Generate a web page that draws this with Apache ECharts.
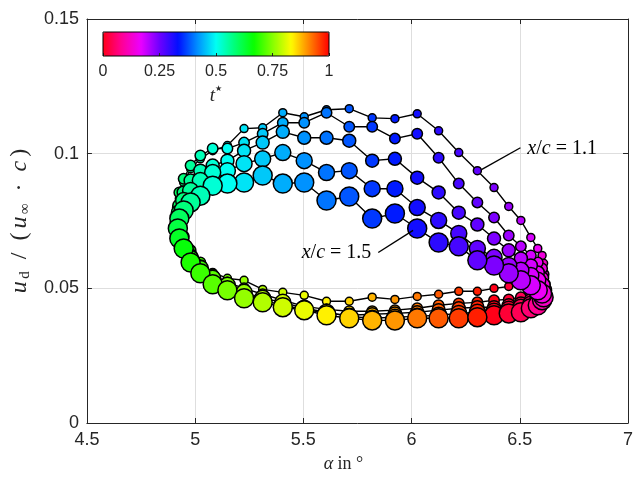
<!DOCTYPE html>
<html><head><meta charset="utf-8">
<script src="https://cdn.jsdelivr.net/npm/echarts@6/dist/echarts.min.js"></script>
<style>html,body{margin:0;padding:0;background:#fff}#c{width:644px;height:478px}</style>
</head><body><div id="c"></div>
<script>
// time stamps t* (one period, 50 samples)
const tStar = [0,0.02,0.04,0.06,0.08,0.10,0.12,0.14,0.16,0.18,0.20,0.22,0.24,0.26,0.28,0.30,0.32,0.34,0.36,0.38,
  0.40,0.42,0.44,0.46,0.48,0.50,0.52,0.54,0.56,0.58,0.60,0.62,0.64,0.66,0.68,0.70,0.72,0.74,0.76,0.78,
  0.80,0.82,0.84,0.86,0.88,0.90,0.92,0.94,0.96,0.98];
// angle of attack alpha (deg) at each t*
const alpha = [6.381,6.449,6.505,6.551,6.583,6.603,6.610,6.603,6.583,6.551,6.505,6.449,6.381,6.304,6.218,6.125,6.026,5.923,5.818,5.712,
  5.607,5.504,5.405,5.312,5.226,5.149,5.081,5.024,4.979,4.947,4.927,4.920,4.927,4.947,4.979,5.024,5.081,5.149,5.226,5.312,
  5.405,5.504,5.607,5.712,5.818,5.923,6.026,6.125,6.218,6.304];
// u_d/(u_inf c) for x/c = 1.1 ... 1.5
const ud11 = [0.0500,0.0507,0.0519,0.0530,0.0544,0.0567,0.0593,0.0622,0.0648,0.0689,
  0.0752,0.0804,0.0874,0.0937,0.1004,0.1085,0.1148,0.1130,0.1133,0.1167,
  0.1163,0.1137,0.1152,0.1096,0.1093,0.1030,0.1011,0.0981,0.0944,0.0893,
  0.0833,0.0774,0.0715,0.0663,0.0619,0.0585,0.0559,0.0537,0.0530,0.0496,
  0.0485,0.0474,0.0452,0.0452,0.0467,0.0459,0.0470,0.0478,0.0489,0.0489];
const ud12 = [0.0456,0.0459,0.0467,0.0481,0.0500,0.0526,0.0552,0.0574,0.0596,0.0622,
  0.0656,0.0696,0.0763,0.0819,0.0889,0.0985,0.1074,0.1056,0.1100,0.1100,
  0.1152,0.1115,0.1115,0.1074,0.1041,0.1019,0.1019,0.0993,0.0956,0.0907,
  0.0856,0.0800,0.0744,0.0693,0.0641,0.0596,0.0552,0.0522,0.0500,0.0478,
  0.0456,0.0433,0.0422,0.0415,0.0415,0.0419,0.0426,0.0437,0.0444,0.0448];
const ud13 = [0.0430,0.0437,0.0444,0.0456,0.0470,0.0493,0.0515,0.0537,0.0559,0.0585,
  0.0611,0.0641,0.0685,0.0737,0.0781,0.0856,0.0911,0.0981,0.0974,0.1048,
  0.1059,0.1059,0.1081,0.1041,0.1011,0.0974,0.0956,0.0937,0.0900,0.0856,
  0.0807,0.0759,0.0707,0.0663,0.0622,0.0581,0.0544,0.0507,0.0481,0.0456,
  0.0437,0.0422,0.0407,0.0400,0.0404,0.0407,0.0411,0.0419,0.0426,0.0430];
const ud14 = [0.0415,0.0422,0.0430,0.0441,0.0456,0.0470,0.0493,0.0511,0.0530,0.0548,
  0.0567,0.0585,0.0615,0.0648,0.0704,0.0752,0.0800,0.0870,0.0870,0.0937,
  0.0930,0.0974,0.1004,0.0981,0.0963,0.0937,0.0930,0.0900,0.0863,0.0826,
  0.0781,0.0737,0.0693,0.0652,0.0611,0.0574,0.0537,0.0511,0.0485,0.0463,
  0.0448,0.0426,0.0411,0.0396,0.0389,0.0393,0.0396,0.0400,0.0407,0.0411];
const ud15 = [0.0400,0.0407,0.0411,0.0426,0.0437,0.0456,0.0467,0.0481,0.0493,0.0511,
  0.0530,0.0556,0.0585,0.0604,0.0656,0.0670,0.0722,0.0778,0.0759,0.0841,
  0.0826,0.0893,0.0889,0.0919,0.0893,0.0889,0.0881,0.0844,0.0819,0.0789,
  0.0759,0.0722,0.0685,0.0648,0.0596,0.0556,0.0515,0.0493,0.0463,0.0448,
  0.0430,0.0419,0.0400,0.0389,0.0381,0.0381,0.0389,0.0389,0.0389,0.0393];
const curves = [ud11, ud12, ud13, ud14, ud15];
const markerSizes = [8, 10.5, 13, 16, 19];
// colormap stops (flipped hsv) for t* = 0 ... 1
const cmap = ['#ff0018','#ff0096','#eb00ff','#6e00ff','#0010ff','#008dff','#00fff3','#00ff76','#08ff00','#85ff00','#fffb00','#ff7d00','#ff0000'];
// annotation anchors (data coordinates)
const ann11 = {text: [6.535, 0.1020], line: [[6.503, 0.1022], [6.323, 0.0941]]};
const ann15 = {text: [5.814, 0.0633], line: [[5.846, 0.0633], [6.007, 0.0715]]};

const AX = '#262626';
const series = [];
const scatterIdx = [];
curves.forEach((ud, c) => {
  const pts = alpha.map((a, i) => [a, ud[i]]);
  series.push({type: 'line', xAxisIndex: 0, yAxisIndex: 0, data: pts.concat([pts[0]]), symbol: 'none',
    lineStyle: {color: '#000', width: 1.4}, silent: true, z: 2});
  scatterIdx.push(series.length);
  series.push({type: 'scatter', xAxisIndex: 0, yAxisIndex: 0, data: alpha.map((a, i) => [a, ud[i], tStar[i]]),
    symbolSize: markerSizes[c], itemStyle: {borderColor: '#000', borderWidth: 1.5, opacity: 1}, z: 2});
});

const chart = echarts.init(document.getElementById('c'), null, {renderer: 'canvas'});
const serif = 'Liberation Serif';
const tickFont = {fontFamily: 'Liberation Sans', fontSize: 18, color: AX};
const sp = '\u2006', en = '\u2002';
chart.setOption({
  animation: false,
  backgroundColor: '#fff',
  grid: [
    {left: 84, top: 19, width: 544, height: 404},
    {left: 103, top: 32, width: 226, height: 24}
  ],
  xAxis: [
    {gridIndex: 0, type: 'value', min: 4.5, max: 7, interval: 0.5, position: 'bottom',
     axisLine: {onZero: false, lineStyle: {color: AX, width: 1}},
     axisTick: {inside: true, length: 5, lineStyle: {color: AX}},
     axisLabel: Object.assign({margin: 8}, tickFont),
     splitLine: {show: true, lineStyle: {color: '#dedede', width: 1}},
     name: '{i|α}{n| in }{n|°}', nameLocation: 'middle', nameGap: 32,
     nameTextStyle: {padding: [0, 28, 0, 0], rich: {i: {fontFamily: serif, fontStyle: 'italic', fontSize: 18, color: AX},
                            n: {fontFamily: serif, fontSize: 18, color: AX}}}},
    {gridIndex: 0, type: 'value', min: 4.5, max: 7, interval: 0.5, position: 'top',
     axisLine: {onZero: false, lineStyle: {color: AX, width: 1}},
     axisTick: {inside: true, length: 5, lineStyle: {color: AX}},
     axisLabel: {show: false}, splitLine: {show: false}},
    {gridIndex: 1, type: 'value', min: 0, max: 1, interval: 0.25, position: 'bottom',
     axisLine: {show: false}, z: 10,
     axisTick: {inside: true, length: 3, lineStyle: {color: AX}},
     axisLabel: {margin: 8, fontFamily: 'Liberation Sans', fontSize: 16, color: AX},
     splitLine: {show: false},
     name: '{i|t}{s|★}', nameLocation: 'middle', nameGap: 29,
     nameTextStyle: {rich: {i: {fontFamily: serif, fontStyle: 'italic', fontSize: 19, color: AX, lineHeight: 22, verticalAlign: 'middle'},
                            s: {fontFamily: 'DejaVu Sans', fontSize: 8, color: AX, lineHeight: 14, verticalAlign: 'top'}}}}
  ],
  yAxis: [
    {gridIndex: 0, type: 'value', min: 0, max: 0.15, interval: 0.05, position: 'left',
     axisLine: {show: true, onZero: false, lineStyle: {color: AX, width: 1}},
     axisTick: {show: true, inside: true, length: 5, lineStyle: {color: AX}},
     axisLabel: Object.assign({margin: 8}, tickFont),
     splitLine: {show: true, lineStyle: {color: '#dedede', width: 1}},
     name: '{i|u}{s|' + sp + 'd}{n|' + en + '/' + en + '(' + sp + '}{i|u}{s|' + sp + '∞}{n|' + en + '·' + en + '}{i|c}{n|' + sp + ')}',
     nameLocation: 'middle', nameGap: 26, nameRotate: 90,
     nameTextStyle: {rich: {
       i: {fontFamily: serif, fontStyle: 'italic', fontSize: 24, color: AX, lineHeight: 26, verticalAlign: 'middle'},
       n: {fontFamily: serif, fontSize: 24, color: AX, lineHeight: 26, verticalAlign: 'middle'},
       s: {fontFamily: serif, fontSize: 15, color: AX, lineHeight: 13, verticalAlign: 'bottom'}}}},
    {gridIndex: 0, type: 'value', min: 0, max: 0.15, interval: 0.05, position: 'right',
     axisLine: {show: true, onZero: false, lineStyle: {color: AX, width: 1}},
     axisTick: {show: true, inside: true, length: 5, lineStyle: {color: AX}},
     axisLabel: {show: false}, splitLine: {show: false}},
    {gridIndex: 1, type: 'value', min: 0, max: 1, show: false}
  ],
  visualMap: {
    type: 'continuous', min: 0, max: 1, dimension: 2, seriesIndex: scatterIdx,
    orient: 'horizontal', left: 103, top: 32, itemWidth: 24, itemHeight: 226, padding: 0,
    calculable: false, realtime: false, showLabel: false, text: null, hoverLink: false,
    inRange: {color: cmap}
  },
  series: series
});

function px(p) { return chart.convertToPixel({gridIndex: 0}, p); }
const annRich = {
  i: {fontFamily: serif, fontStyle: 'italic', fontSize: 20, color: '#000'},
  n: {fontFamily: serif, fontSize: 20, color: '#000'}
};
const t11 = px(ann11.text), a11 = px(ann11.line[0]), b11 = px(ann11.line[1]);
const t15 = px(ann15.text), a15 = px(ann15.line[0]), b15 = px(ann15.line[1]);
chart.setOption({
  graphic: [
    {type: 'rect', z: 100, shape: {x: 103, y: 32, width: 226, height: 24}, style: {fill: 'none', stroke: '#000', lineWidth: 1}},
    {type: 'line', z: 100, shape: {x1: a11[0], y1: a11[1], x2: b11[0], y2: b11[1]}, style: {stroke: '#000', lineWidth: 1.4}},
    {type: 'text', z: 100, x: t11[0], y: t11[1], style: {text: '{i|x}{n|/}{i|c}{n| = 1.1}', rich: annRich, align: 'left', verticalAlign: 'middle'}},
    {type: 'line', z: 100, shape: {x1: a15[0], y1: a15[1], x2: b15[0], y2: b15[1]}, style: {stroke: '#000', lineWidth: 1.4}},
    {type: 'text', z: 100, x: t15[0], y: t15[1], style: {text: '{i|x}{n|/}{i|c}{n| = 1.5}', rich: annRich, align: 'right', verticalAlign: 'middle'}}
  ]
});
</script></body></html>
